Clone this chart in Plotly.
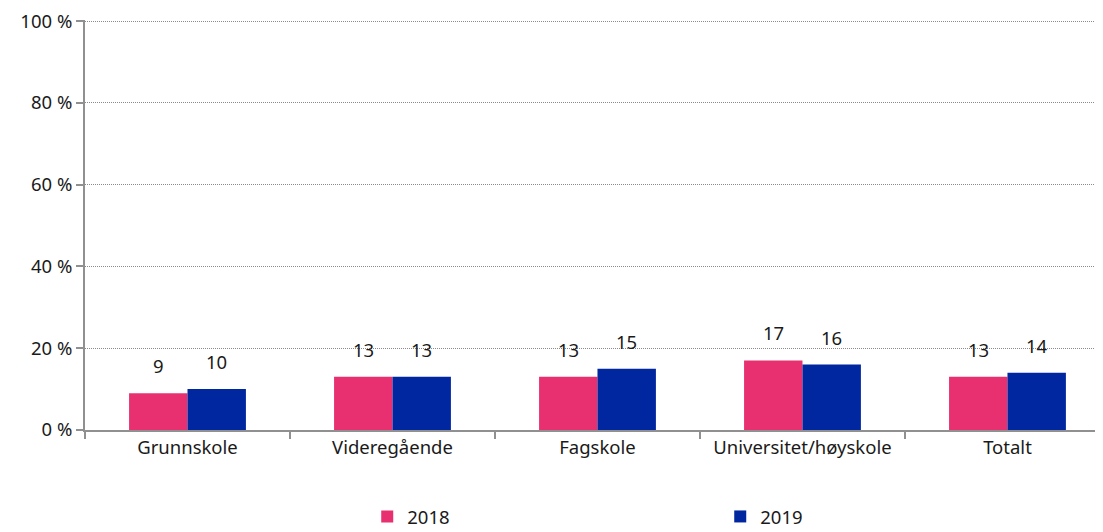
import plotly.graph_objects as go

categories = ["Grunnskole", "Videregående", "Fagskole", "Universitet/høyskole", "Totalt"]
values_2018 = [9, 13, 13, 17, 13]
values_2019 = [10, 13, 15, 16, 14]
series_names = ["2018", "2019"]
colors = ["#E83070", "#0026A0"]
y_ticks = [0, 20, 40, 60, 80, 100]
y_tick_labels = ["0 %", "20 %", "40 %", "60 %", "80 %", "100 %"]

FONT = "Noto Sans"
FS = 18.5
TXT = "#1a1a1a"

W, H = 1095, 524
ML, MT, MB = 77, 12, 102
plot_w = W - ML
bargap = 0.43
cat_px = plot_w / 4.966
bar_px = cat_px * (1 - bargap) / 2

fig = go.Figure()
for name, vals, col in zip(series_names, [values_2018, values_2019], colors):
    fig.add_trace(go.Bar(
        x=categories, y=vals, name=name, marker=dict(color=col, line=dict(width=0)),
    ))

annotations = []
for i, vals in enumerate([values_2018, values_2019]):
    shift = (-0.5 if i == 0 else 0.5) * bar_px
    for c, v in zip(categories, vals):
        annotations.append(dict(
            x=c, y=v, xref="x", yref="y", text=str(v), showarrow=False,
            xanchor="center", yanchor="bottom", xshift=shift, yshift=13,
            font=dict(family=FONT, size=FS, color=TXT),
        ))

fig.update_layout(
    width=W, height=H,
    margin=dict(l=ML, r=0, t=MT, b=MB, autoexpand=False),
    plot_bgcolor="white", paper_bgcolor="white",
    barmode="group", bargap=bargap, bargroupgap=0,
    font=dict(family=FONT, size=FS, color=TXT),
    annotations=annotations,
    showlegend=True,
    legend=dict(orientation="h", x=0.624, xanchor="center", y=-0.212, yanchor="middle",
                entrywidth=308, entrywidthmode="pixels",
                font=dict(family=FONT, size=FS, color=TXT),
                itemwidth=30, traceorder="normal"),
    xaxis=dict(
        type="category", range=[-0.5, 4.466],
        showline=True, linecolor="#909090", linewidth=2,
        ticks="outside", tickson="boundaries", ticklen=7, tickcolor="#909090", tickwidth=2,
        showgrid=False, tickfont=dict(family=FONT, size=FS, color=TXT),
    ),
    yaxis=dict(
        range=[0, 100.25], tickvals=y_ticks, ticktext=y_tick_labels,
        showline=True, linecolor="#909090", linewidth=2,
        ticks="outside", ticklen=7, tickcolor="#909090", tickwidth=2,
        showgrid=True, gridcolor="#8a8a8a", griddash="1px,1px", gridwidth=1,
        zeroline=False, tickfont=dict(family=FONT, size=FS, color=TXT),
        ticklabeloverflow="allow",
    ),
)

fig.write_html("out.html")
